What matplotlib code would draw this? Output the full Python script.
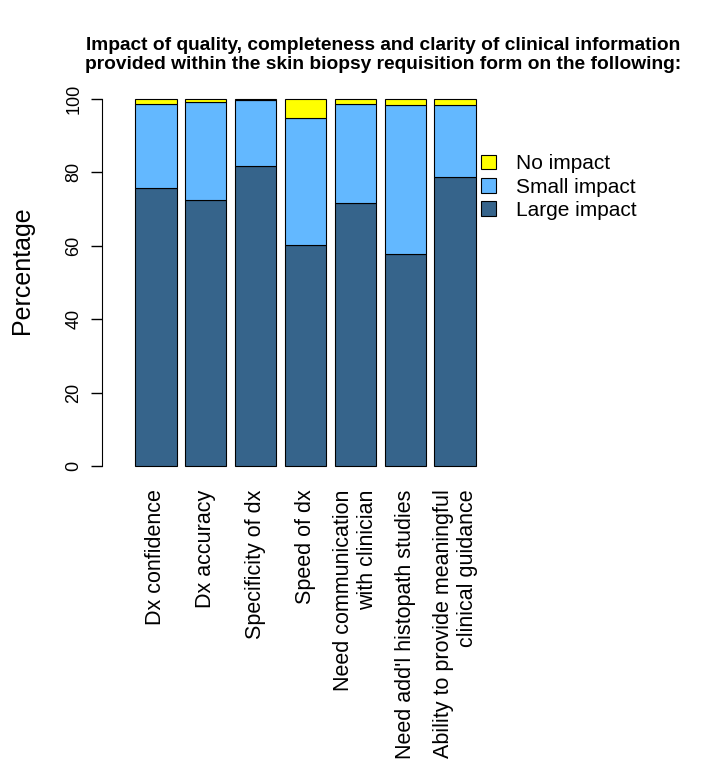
import matplotlib
matplotlib.use('Agg')
import matplotlib.pyplot as plt
import numpy as np

plt.rcParams['font.family'] = ['Liberation Sans', 'DejaVu Sans']

# Data (percentages)
categories = ['Dx confidence', 'Dx accuracy', 'Specificity of dx', 'Speed of dx',
              'Need communication\nwith clinician', "Need add'l histopath studies",
              'Ability to provide meaningful\nclinical guidance']
large_impact = [75.8, 72.4, 81.8, 60.2, 71.7, 57.8, 78.7]
small_impact = [22.8, 26.7, 17.8, 34.6, 26.9, 40.4, 19.7]
no_impact = [1.4, 0.9, 0.4, 5.2, 1.4, 1.8, 1.6]

col_large = '#36648B'
col_small = '#63B8FF'
col_none = '#FFFF00'

fig = plt.figure(figsize=(7.14, 7.7), dpi=100)
ax = fig.add_axes([120 / 714, 289 / 770, 370 / 714, 397 / 770])

x = np.arange(len(categories))
w = 1 / 1.2
large = np.array(large_impact)
small = np.array(small_impact)
b1 = ax.bar(x, large, w, color=col_large, edgecolor='black', linewidth=0.8)
b2 = ax.bar(x, small, w, bottom=large, color=col_small, edgecolor='black', linewidth=0.8)
b3 = ax.bar(x, no_impact, w, bottom=large + small, color=col_none, edgecolor='black', linewidth=0.8)

ax.set_xlim(-0.717, 6.697)
ax.set_ylim(-4, 104)

for s in ['top', 'right', 'bottom']:
    ax.spines[s].set_visible(False)
ax.spines['left'].set_bounds(0, 100)
ax.spines['left'].set_position(('outward', 13))
ax.set_yticks([0, 20, 40, 60, 80, 100])
ax.set_yticklabels(['0', '20', '40', '60', '80', '100'], rotation=90, va='center', fontsize=13)
ax.tick_params(axis='y', length=8, width=1, pad=6)

ax.set_xticks(x)
ax.set_xticklabels(categories, rotation=90, fontsize=15.5, va='top', ha='center',
                   multialignment='right')
ax.tick_params(axis='x', length=0, pad=6)

ax.set_ylabel('Percentage', fontsize=18)
ax.yaxis.set_label_coords(-0.232, 0.53)

fig.text(0.536, 0.928, 'Impact of quality, completeness and clarity of clinical information\n'
         'provided within the skin biopsy requisition form on the following:',
         ha='center', va='center', fontsize=13.8, fontweight='bold', linespacing=1.15)

ax.legend([b3, b2, b1], ['No impact', 'Small impact', 'Large impact'],
          loc='upper left', bbox_to_anchor=(0.925, 0.87), frameon=False, fontsize=15,
          handlelength=0.7, handleheight=0.7, handletextpad=1.0, labelspacing=0.2)

fig.savefig('out.png', dpi=100)
